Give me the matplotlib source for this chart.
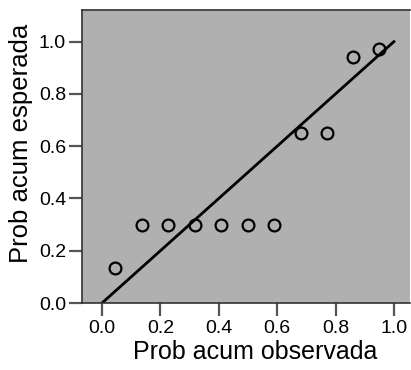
import matplotlib
matplotlib.use("Agg")
import matplotlib.pyplot as plt

# P-P plot values
observed = [0.045, 0.136, 0.227, 0.318, 0.409, 0.50, 0.59, 0.68, 0.77, 0.86, 0.95]
expected = [0.135, 0.30, 0.30, 0.30, 0.30, 0.30, 0.30, 0.65, 0.65, 0.94, 0.97]
ref_line = [0.0, 1.0]
ticks = [0.0, 0.2, 0.4, 0.6, 0.8, 1.0]
tick_labels = ["0.0", "0.2", "0.4", "0.6", "0.8", "1.0"]

plt.rcParams['font.family'] = ['Liberation Sans', 'DejaVu Sans']

fig = plt.figure(figsize=(4.11, 3.70), dpi=100)
ax = fig.add_axes([0.1995, 0.181, 0.798, 0.792])
ax.set_facecolor('#b0b0b0')

ax.plot(ref_line, ref_line, color='black', linewidth=2.0, zorder=2)
ax.plot(observed, expected, linestyle='none', marker='o', markersize=8.5,
        markerfacecolor='none', markeredgecolor='black', markeredgewidth=1.6, zorder=3)

ax.set_xlim(-0.0685, 1.055)
ax.set_ylim(0.0, 1.121)
ax.set_xticks(ticks)
ax.set_xticklabels(tick_labels)
ax.set_yticks(ticks)
ax.set_yticklabels(tick_labels)
ax.tick_params(axis='both', direction='out', length=9.5, width=1.6,
               color='#555555', labelsize=14)
ax.tick_params(axis='x', pad=3)
ax.tick_params(axis='y', pad=2)

for s in ['top', 'left', 'bottom']:
    ax.spines[s].set_color('#333333')
    ax.spines[s].set_linewidth(1.2)
ax.spines['right'].set_visible(False)

ax.set_xlabel('Prob acum observada', fontsize=18)
ax.set_ylabel('Prob acum esperada', fontsize=18.5)
ax.xaxis.set_label_coords(0.527, -0.125)
ax.yaxis.set_label_coords(-0.15, 0.546)

fig.savefig('out.png', dpi=100)
